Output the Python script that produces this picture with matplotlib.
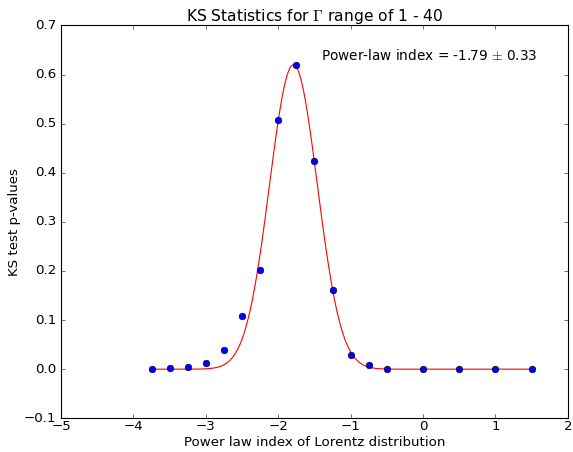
import numpy as np
import matplotlib
matplotlib.use("Agg")
import matplotlib.pyplot as plt

plt.style.use("classic")

x_idx = [-3.75, -3.5, -3.25, -3.0, -2.75, -2.5, -2.25, -2.0, -1.75, -1.5,
         -1.25, -1.0, -0.75, -0.5, 0.0, 0.5, 1.0, 1.5]
p_vals = [0.001, 0.002, 0.005, 0.0135, 0.039, 0.109, 0.202, 0.508, 0.620, 0.424,
          0.161, 0.029, 0.0075, 0.001, 0.0, 0.0, 0.0, 0.0]

fit_amp = 0.62
fit_mean = -1.79
fit_sigma = 0.33

fig = plt.figure(figsize=(573 / 80, 452 / 80), dpi=80)
fig.patch.set_facecolor("white")
ax = fig.add_axes([0.1065, 0.0746, 0.8845, 0.869])

xs = np.linspace(min(x_idx), max(x_idx), 500)
ax.plot(xs, fit_amp * np.exp(-(xs - fit_mean) ** 2 / (2 * fit_sigma ** 2)), "r-")
ax.plot(x_idx, p_vals, "bo")

ax.set_xlim(-5, 2)
ax.set_ylim(-0.1, 0.7)
ax.tick_params(axis="x", pad=1.5)
ax.set_title(r"KS Statistics for $\Gamma$ range of 1 - 40", fontsize=14, pad=4)
ax.set_xlabel("Power law index of Lorentz distribution", fontsize=12, labelpad=3)
ax.set_ylabel("KS test p-values", fontsize=12, labelpad=3)
ax.text(-1.41, 0.63, r"Power-law index = -1.79 $\pm$ 0.33", fontsize=12.3)

fig.savefig("out.png", dpi=80, facecolor="white")
